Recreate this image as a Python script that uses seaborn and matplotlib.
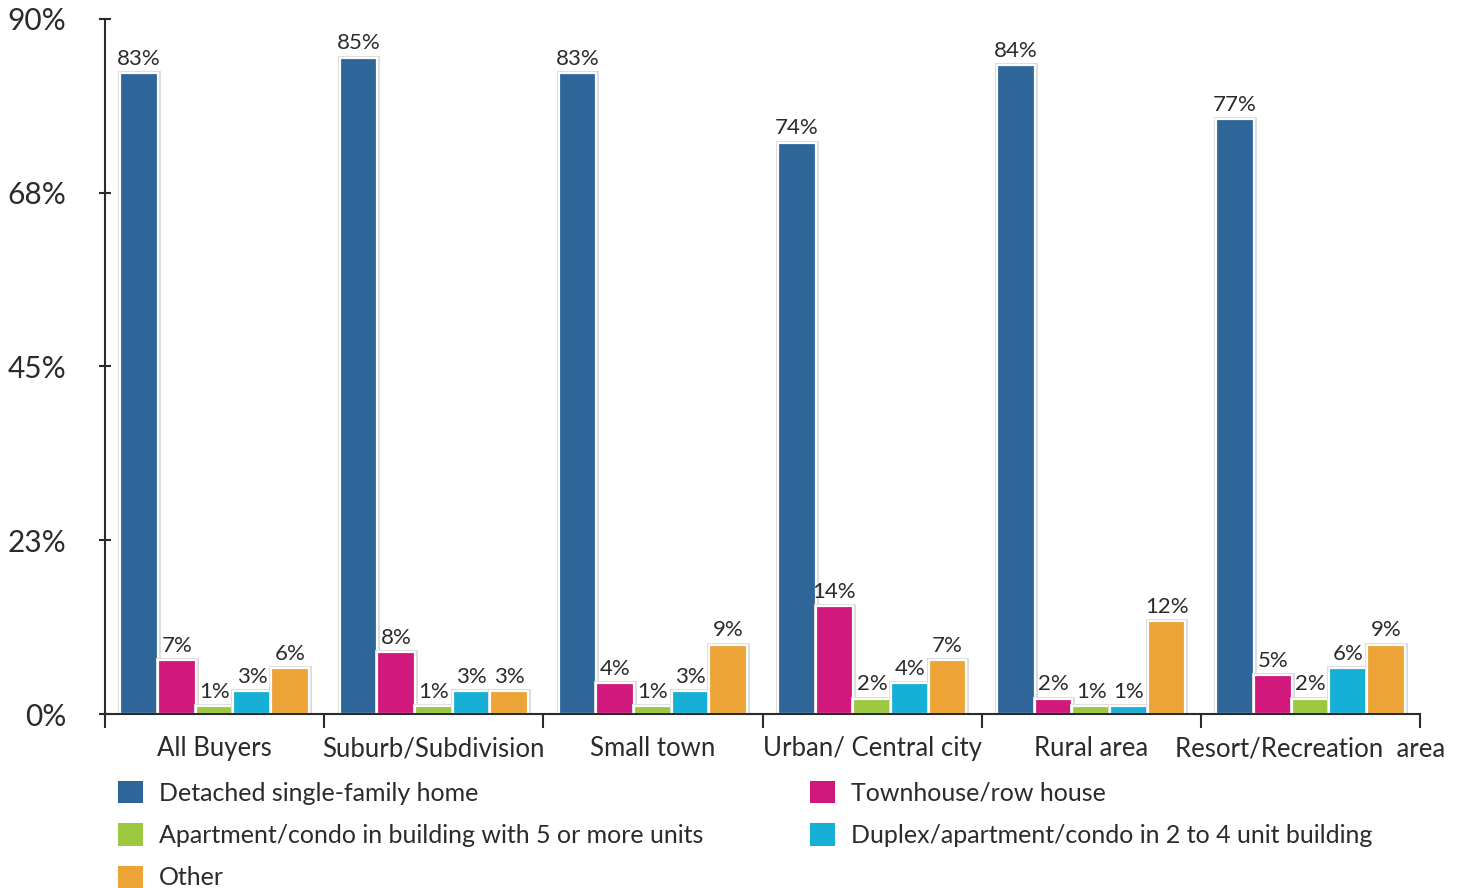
import matplotlib
matplotlib.use("Agg")
import matplotlib.pyplot as plt
import matplotlib.patheffects as pe
from matplotlib.patches import Patch
import seaborn as sns
import pandas as pd

# Home type purchased, by location of the home (% of buyers)
locations = ["All Buyers", "Suburb/Subdivision", "Small town",
             "Urban/ Central city", "Rural area", "Resort/Recreation  area"]
home_types = ["Detached single-family home",
              "Townhouse/row house",
              "Apartment/condo in building with 5 or more units",
              "Duplex/apartment/condo in 2 to 4 unit building",
              "Other"]

detached = [83, 85, 83, 74, 84, 77]
townhouse = [7, 8, 4, 14, 2, 5]
apartment_5plus = [1, 1, 1, 2, 1, 2]
duplex = [3, 3, 3, 4, 1, 6]
other = [6, 3, 9, 7, 12, 9]

y_ticks = [0, 22.5, 45, 67.5, 90]
y_tick_labels = ["0%", "23%", "45%", "68%", "90%"]

colors = ["#2E6699", "#D0187D", "#9BC83E", "#16AFD6", "#EDA436"]

series = [detached, townhouse, apartment_5plus, duplex, other]
df = pd.DataFrame(
    [(loc, ht, vals[i]) for ht, vals in zip(home_types, series)
     for i, loc in enumerate(locations)],
    columns=["location", "home_type", "share"],
)

sns.set_theme(style="white")
plt.rcParams["font.family"] = ["Lato", "DejaVu Sans"]
text_color = "#2b2b2b"

fig = plt.figure(figsize=(14.65, 8.88), dpi=100)
ax = fig.add_axes([105 / 1465, 174 / 888, 1315 / 1465, 695 / 888])

sns.barplot(data=df, x="location", y="share", hue="home_type",
            order=locations, hue_order=home_types, palette=colors,
            width=0.86, gap=0, saturation=1, legend=False, ax=ax,
            edgecolor="white", linewidth=1.6)

for patch in ax.patches:
    patch.set_path_effects([pe.Stroke(linewidth=3.6, foreground="#dcdcdc"),
                            pe.Normal()])

for container in ax.containers:
    ax.bar_label(container, labels=[f"{v:.0f}%" for v in container.datavalues],
                 padding=3, fontsize=16, color=text_color)

ax.set_xlim(-0.5, len(locations) - 0.5)
ax.set_ylim(0, 90)
ax.set_yticks(y_ticks)
ax.set_yticklabels(y_tick_labels, fontsize=21.5, color=text_color)
ax.tick_params(axis="y", direction="inout", length=8, width=1.5,
               color=text_color, left=True, pad=24)

# group separators on the category axis
ax.set_xticks([i - 0.5 for i in range(len(locations) + 1)], minor=True)
ax.set_xticks(range(len(locations)))
ax.set_xticklabels(locations, fontsize=18.5, color=text_color)
ax.tick_params(axis="x", which="major", length=0, pad=16)
ax.tick_params(axis="x", which="minor", direction="out", length=10,
               width=1.5, color=text_color, bottom=True)
ax.set_xlabel("")
ax.set_ylabel("")

for side in ["top", "right"]:
    ax.spines[side].set_visible(False)
for side in ["left", "bottom"]:
    ax.spines[side].set_color(text_color)
    ax.spines[side].set_linewidth(1.5)

handles = [Patch(facecolor=c, edgecolor="none") for c in colors]
legend_kw = dict(frameon=False, fontsize=18, handlelength=1.0,
                 handleheight=1.0, handletextpad=0.65, labelspacing=0.74,
                 borderaxespad=0, borderpad=0, labelcolor=text_color)
left_idx = [0, 2, 4]
right_idx = [1, 3]
leg1 = fig.legend([handles[i] for i in left_idx],
                  [home_types[i] for i in left_idx],
                  loc="upper left", bbox_to_anchor=(118 / 1465, 1 - 781 / 888),
                  **legend_kw)
leg2 = fig.legend([handles[i] for i in right_idx],
                  [home_types[i] for i in right_idx],
                  loc="upper left", bbox_to_anchor=(810 / 1465, 1 - 781 / 888),
                  **legend_kw)

fig.savefig("out.png", dpi=100)
